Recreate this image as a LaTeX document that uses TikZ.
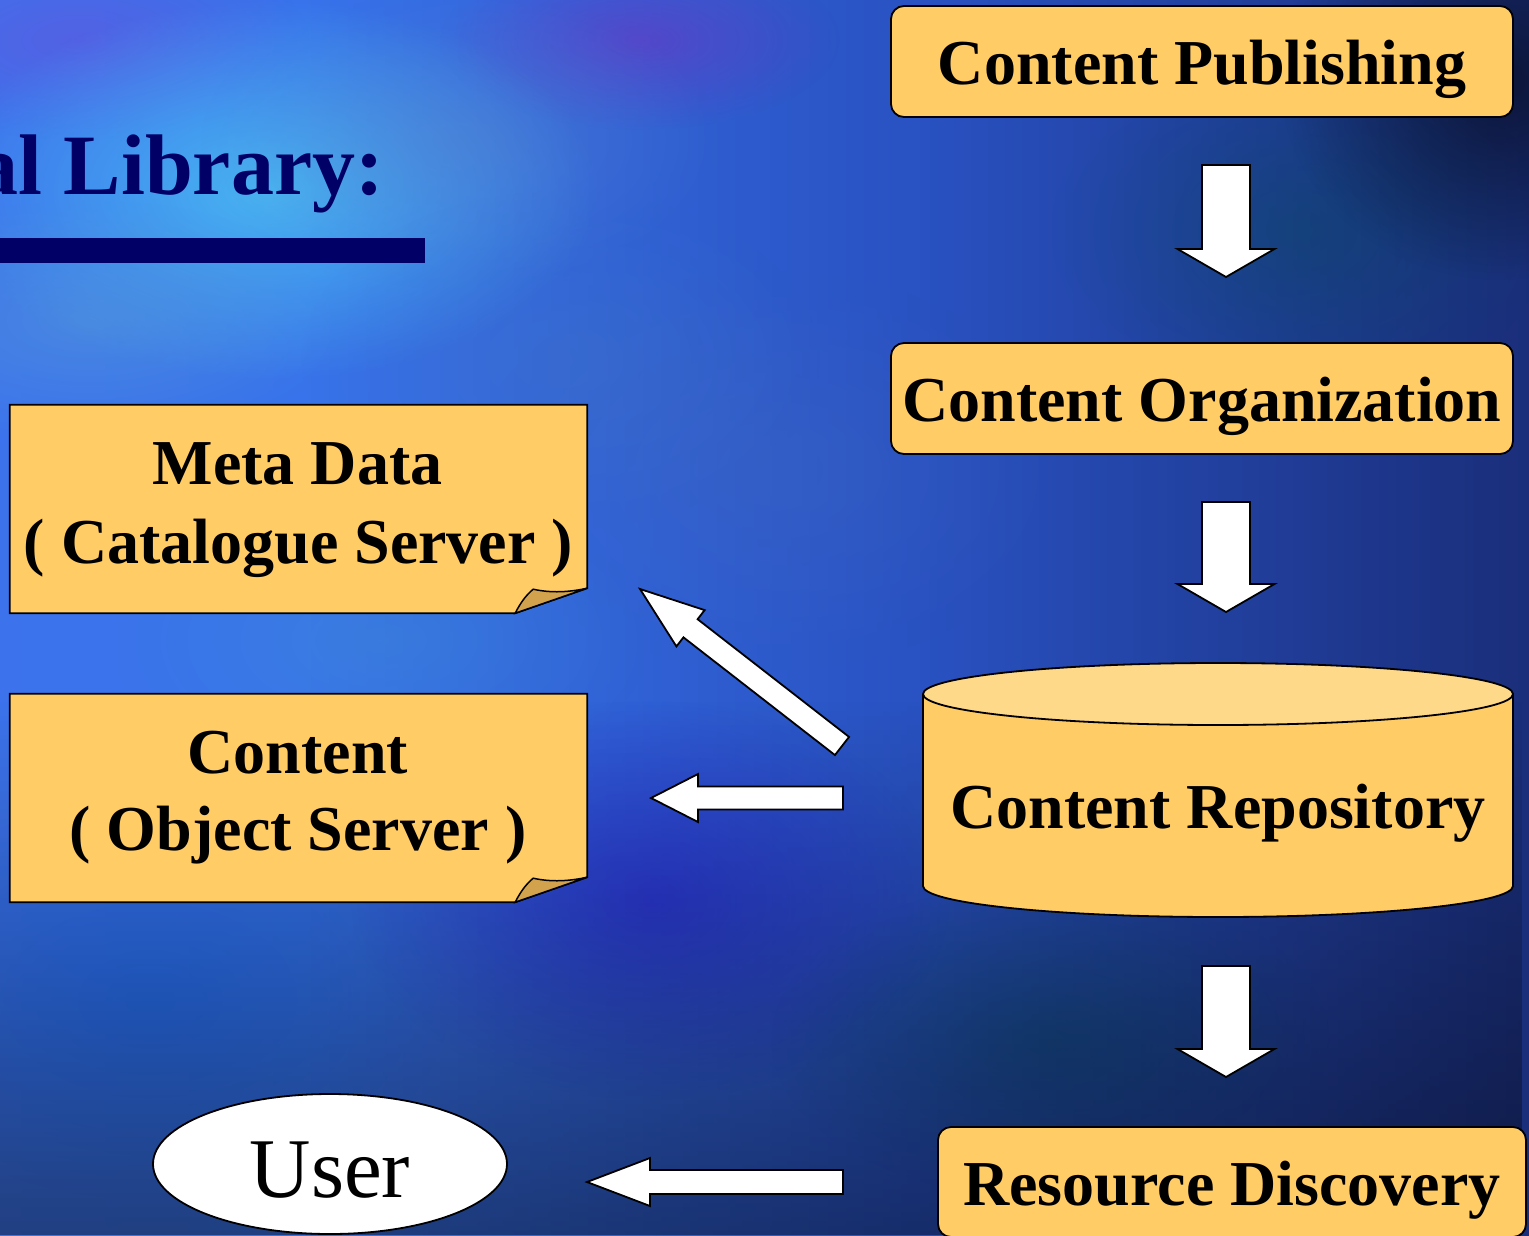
\documentclass[tikz,border=0pt]{standalone}
\usepackage{fontspec}
\setmainfont{Liberation Serif}
\usetikzlibrary{fadings,calc,shapes.geometric}

\definecolor{boxfill}{HTML}{FFCC66}
\definecolor{topfill}{HTML}{FFD98A}
\definecolor{flapfill}{HTML}{D2A24C}
\definecolor{titlenavy}{HTML}{000066}

\tikzfading[name=glow, inner color=transparent!0, outer color=transparent!100]
\tikzfading[name=fadeup, top color=transparent!100, bottom color=transparent!55]

\pgfdeclarehorizontalshading{bgh}{100bp}{%
  rgb(0bp)=(0.27,0.45,0.94);
  rgb(35bp)=(0.22,0.45,0.92);
  rgb(55bp)=(0.16,0.32,0.76);
  rgb(72bp)=(0.11,0.20,0.52);
  rgb(85bp)=(0.08,0.12,0.34);
  rgb(100bp)=(0.05,0.06,0.20)}

% block arrow: tail, tip, shaft half width, head half width, head length (pt)
\newcommand\blockarrow[5]{%
  \path[blk] let \p1=(#1), \p2=(#2),
      \n1={atan2(\y2-\y1,\x2-\x1)}, \n2={veclen(\x2-\x1,\y2-\y1)} in
    [shift={(\p1)}, rotate=\n1]
    (0pt,{-#3*1pt}) -- ({(\n2-#5)*1pt},{-#3*1pt}) -- ({(\n2-#5)*1pt},{-#4*1pt})
    -- ({\n2*1pt},0pt) -- ({(\n2-#5)*1pt},{#4*1pt}) -- ({(\n2-#5)*1pt},{#3*1pt})
    -- (0pt,{#3*1pt}) -- cycle;}

\newcommand\glowat[6]{% x, y, rx, ry, color, opacity
  \fill[#5, fill opacity=#6, path fading=glow] (#1,#2) ellipse (#3 and #4);}

\begin{document}
\begin{tikzpicture}[x=1pt,y=-1pt,
  box/.style={draw=black, line width=1.8pt, fill=boxfill, rounded corners=13pt,
    inner sep=0pt, text height=46pt, text depth=0pt,
    font=\fontsize{64}{70}\selectfont\bfseries},
  notebox/.style={inner sep=0pt},
  ntext/.style={inner sep=0pt, anchor=base, font=\fontsize{64}{70}\selectfont\bfseries},
  outline/.style={draw=black, line width=1.8pt},
  blk/.style={draw=black, line width=1.8pt, fill=white, line join=miter}]

\useasboundingbox (0,0) rectangle (1529,1235);

% ---------- background ----------
\shade[shading=bgh] (0,0) rectangle (1529,1235);
\glowat{80}{40}{230}{100}{blue!60!violet!70!white}{0.45}
\glowat{640}{40}{200}{90}{violet!60!blue!80!white}{0.55}
\glowat{270}{190}{330}{190}{cyan!70!white}{0.8}
\glowat{460}{140}{260}{150}{cyan!40!blue!70!white}{0.45}
\glowat{90}{320}{260}{120}{cyan!60!blue!70!white}{0.55}
\glowat{560}{360}{260}{170}{cyan!40!blue!80!white}{0.35}
\glowat{380}{640}{270}{150}{cyan!60!blue!80!white}{0.4}
\glowat{770}{470}{300}{200}{cyan!30!blue!80!white}{0.3}
\glowat{650}{900}{300}{200}{blue!70!violet}{0.4}
\glowat{150}{1000}{300}{200}{blue!60!cyan}{0.3}
\glowat{1300}{230}{250}{180}{teal!60!black}{0.35}
\glowat{1050}{1040}{280}{160}{teal!60!black}{0.35}
\glowat{1500}{80}{220}{200}{black}{0.55}
\fill[black, path fading=fadeup] (0,700) rectangle (1529,1235);

% ---------- title ----------
\node[anchor=base east, inner sep=0pt, text=titlenavy,
  font=\fontsize{86}{90}\selectfont\bfseries] (title) at (384,194) {al Library:};
\fill[titlenavy] (0,238) rectangle (425,263);

% ---------- right column ----------
\node[box, minimum width=622pt, minimum height=111pt] (pub) at (1202,61.5) {Content Publishing};
\node[box, minimum width=622pt, minimum height=111pt] (org) at (1202,398.5) {Content Organization};
\node[box, minimum width=588pt, minimum height=110pt] (disc) at (1232,1182) {Resource Discovery};

% cylinder
\fill[boxfill] (923,694) rectangle (1513,886);
\fill[boxfill] (1218,886) ellipse (295 and 31);
\begin{scope}
  \clip (900,886) rectangle (1529,935);
  \draw[outline] (1218,886) ellipse (295 and 31);
\end{scope}
\draw[outline] (923,694) -- (923,886);
\draw[outline] (1513,694) -- (1513,886);
\draw[outline, fill=topfill] (1218,694) ellipse (295 and 31);
\node[ntext] (repo) at (1218,828) {Content Repository};

% ---------- left column ----------
\node[notebox, minimum width=577pt, minimum height=208pt] (meta) at (298.5,509) {};
\draw[outline, fill=boxfill, line join=miter] (meta.north west) -- (meta.north east)
  -- ($(meta.south east)+(0,-25)$) -- ($(meta.south east)+(-72,0)$) -- (meta.south west) -- cycle;
\draw[outline, fill=flapfill, line width=1.5pt] ($(meta.south east)+(-72,0)$)
  .. controls +(6,-12) and +(-6,5) .. ($(meta.south east)+(-54,-24)$)
  .. controls +(18,4) and +(-18,4) .. ($(meta.south east)+(0,-25)$) -- cycle;
\node[ntext] (metaA) at (297.5,484) {Meta Data};
\node[ntext] (metaB) at (298.5,563) {( Catalogue Server )};

\node[notebox, minimum width=577pt, minimum height=208pt] (obj) at (298.5,798) {};
\draw[outline, fill=boxfill, line join=miter] (obj.north west) -- (obj.north east)
  -- ($(obj.south east)+(0,-25)$) -- ($(obj.south east)+(-72,0)$) -- (obj.south west) -- cycle;
\draw[outline, fill=flapfill, line width=1.5pt] ($(obj.south east)+(-72,0)$)
  .. controls +(6,-12) and +(-6,5) .. ($(obj.south east)+(-54,-24)$)
  .. controls +(18,4) and +(-18,4) .. ($(obj.south east)+(0,-25)$) -- cycle;
\node[ntext] (objA) at (298,773) {Content};
\node[ntext] (objB) at (298,850) {( Object Server )};

\node[draw=black, line width=1.8pt, fill=white, ellipse, minimum width=354pt,
  minimum height=140pt, inner sep=0pt, text height=66pt, text depth=0pt,
  font=\fontsize{85}{90}\selectfont] (user) at (330,1164) {User};

% ---------- arrows ----------
\coordinate (a1t) at (1226,165);  \coordinate (a1h) at (1226,277);
\coordinate (a2t) at (1226,502);  \coordinate (a2h) at (1226,612);
\coordinate (a3t) at (1226,966);  \coordinate (a3h) at (1226,1077);
\coordinate (a4t) at (843,798);   \coordinate (a4h) at (651,798);
\coordinate (a5t) at (843,1182);  \coordinate (a5h) at (587,1182);
\coordinate (a6t) at (842,746);   \coordinate (a6h) at (640,589);

\blockarrow{a1t}{a1h}{24}{48.5}{28}
\blockarrow{a2t}{a2h}{24}{48.5}{28}
\blockarrow{a3t}{a3h}{24}{48.5}{28}
\blockarrow{a4t}{a4h}{11.5}{24}{47}
\blockarrow{a5t}{a5h}{12}{24}{63}
\blockarrow{a6t}{a6h}{11.5}{23}{64}
\end{tikzpicture}
\end{document}
